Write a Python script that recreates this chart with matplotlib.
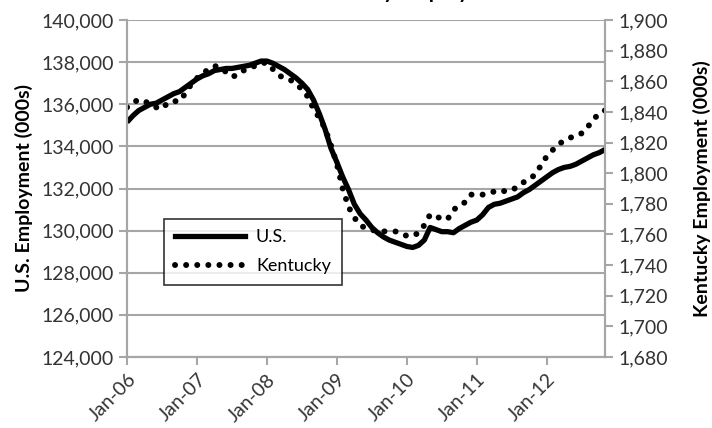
import numpy as np
import matplotlib
matplotlib.use("Agg")
import matplotlib.pyplot as plt

plt.rcParams['font.family'] = ['Lato', 'DejaVu Sans']

# monthly, Jan 2006 .. Nov 2012
us = [135150, 135450, 135700, 135850, 136000, 136050, 136200, 136350, 136500, 136600,
      136800, 137000, 137200, 137350, 137450, 137600, 137650, 137700, 137700, 137750,
      137800, 137850, 137950, 138050, 138050, 137950, 137800, 137650, 137450, 137250,
      137000, 136700, 136200, 135550, 134800, 133900, 133250, 132550, 131950, 131250,
      130800, 130500, 130150, 129900, 129700, 129550, 129450, 129350, 129250, 129200,
      129300, 129550, 130150, 130050, 129950, 129950, 129900, 130100, 130250, 130400,
      130500, 130750, 131100, 131250, 131300, 131400, 131500, 131600, 131800, 131950,
      132150, 132350, 132550, 132750, 132900, 133000, 133050, 133150, 133300, 133450,
      133600, 133700, 133850]
ky = [1843, 1846, 1848, 1847, 1845, 1843, 1842, 1846, 1847, 1847,
      1852, 1858, 1862, 1865, 1868, 1870, 1869, 1866, 1863, 1864,
      1867, 1869, 1870, 1872, 1872, 1868, 1864, 1862, 1861, 1858,
      1855, 1850, 1842, 1836, 1829, 1818, 1806, 1790, 1778, 1771,
      1766, 1764, 1763, 1762, 1762, 1762, 1762, 1761, 1759, 1759,
      1761, 1766, 1773, 1772, 1770, 1770, 1776, 1779, 1781, 1786,
      1786, 1786, 1787, 1788, 1789, 1788, 1789, 1791, 1794, 1796,
      1799, 1805, 1811, 1815, 1819, 1821, 1823, 1825, 1826, 1830,
      1835, 1839, 1841]
year_labels = ['Jan-06', 'Jan-07', 'Jan-08', 'Jan-09', 'Jan-10', 'Jan-11', 'Jan-12']

months = np.arange(len(us))
grey = '#a6a6a6'
fs = 14

fig = plt.figure(figsize=(7.12, 4.28), dpi=100)
ax = fig.add_axes([127/712, 1 - 357/428, 478/712, 337/428])
ax2 = ax.twinx()

ax.set_ylim(124000, 140000)
ax.set_yticks(np.arange(124000, 140001, 2000))
ax.set_yticklabels([f'{v:,}' for v in range(124000, 140001, 2000)])
ax2.set_ylim(1680, 1900)
ax2.set_yticks(np.arange(1680, 1901, 20))
ax2.set_yticklabels([f'{v:,}' for v in range(1680, 1901, 20)])
ax.set_xlim(0, len(us) - 1)
ax.set_xticks(np.arange(0, len(us), 12))
ax.set_xticklabels(year_labels, rotation=45, ha='right', rotation_mode='anchor')

ax.yaxis.grid(True, color=grey, lw=1.5)
ax.set_axisbelow(True)
for a in (ax, ax2):
    a.spines['top'].set_visible(False)
    for s in ('left', 'right', 'bottom'):
        a.spines[s].set_color(grey)
        a.spines[s].set_linewidth(1.5)
    a.tick_params(colors=grey, width=1.5, length=6, labelcolor='#333333', labelsize=fs)
ax.tick_params(axis='x', pad=4)

l1, = ax2.plot(months, [np.nan] * len(us), color='black', lw=3.8, label='U.S.')
l2, = ax2.plot(months, ky, color='black', lw=4.3, linestyle=(0, (0.01, 1.85)),
               dash_capstyle='round', label='Kentucky')
ax.plot(months, us, color='black', lw=3.8, solid_capstyle='butt', zorder=3)

ax.set_ylabel('U.S. Employment (000s)', fontsize=fs, fontweight='bold', labelpad=6)
ax2.set_ylabel('Kentucky Employment (000s)', fontsize=fs, fontweight='bold', labelpad=18)

leg = ax2.legend(handles=[l1, l2], loc='lower left', bbox_to_anchor=(0.077, 0.214),
                 borderaxespad=0, frameon=True, fancybox=False, fontsize=fs - 1,
                 handlelength=3.9, handletextpad=0.6, borderpad=0.6, labelspacing=0.7)
leg.get_frame().set_edgecolor('black')
leg.get_frame().set_linewidth(1.2)

fig.text(0.52, 1 + 1.5/428, 'U.S. and Kentucky Employment', ha='center', va='baseline',
         fontsize=15, fontweight='bold')

fig.savefig('out.png', dpi=100)
